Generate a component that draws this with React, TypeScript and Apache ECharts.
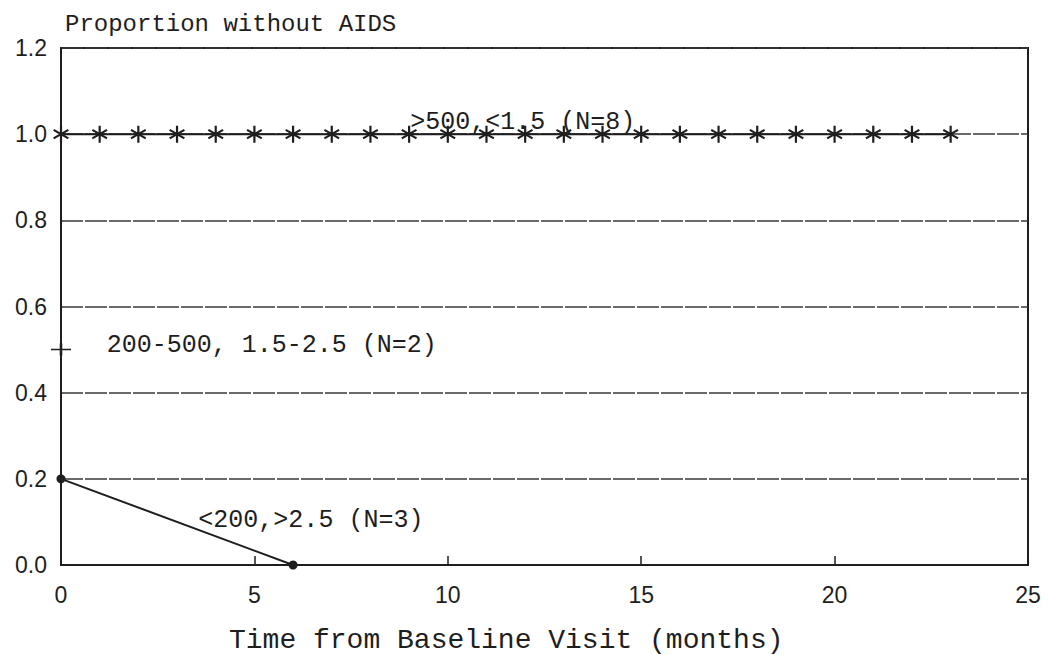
import React, { useEffect, useRef } from "react";
import * as echarts from "echarts";

const highMonths = [0, 1, 2, 3, 4, 5, 6, 7, 8, 9, 10, 11, 12, 13, 14, 15, 16, 17, 18, 19, 20, 21, 22, 23];
const highValues = [1, 1, 1, 1, 1, 1, 1, 1, 1, 1, 1, 1, 1, 1, 1, 1, 1, 1, 1, 1, 1, 1, 1, 1];
const midMonths = [0];
const midValues = [0.5];
const lowMonths = [0, 6];
const lowValues = [0.2, 0];
const groupLabels = [">500,<1.5 (N=8)", "200-500, 1.5-2.5 (N=2)", "<200,>2.5 (N=3)"];
const xTicks = [0, 5, 10, 15, 20, 25];
const yTicks = [0, 0.2, 0.4, 0.6, 0.8, 1.0, 1.2];

const MONO = "'Liberation Mono', 'DejaVu Sans Mono', monospace";
const SANS = "'Liberation Sans', Arial, sans-serif";
const INK = "#1e1e1e";

const asterisk = "path://M0,-10 L0,10 M-8.66,-5 L8.66,5 M-8.66,5 L8.66,-5";
const plus = "path://M-10,0 L10,0 M0,-6 L0,6";

export default function App() {
  const ref = useRef<HTMLDivElement>(null);
  useEffect(() => {
    if (!ref.current) return;
    const chart = echarts.init(ref.current, undefined, { renderer: "svg" });
    const lbl = (text: string) => ({
      show: true,
      position: "inside",
      formatter: text,
      fontFamily: MONO,
      fontSize: 25,
      color: INK,
    });
    chart.setOption({
      animation: false,
      backgroundColor: "#ffffff",
      title: [
        {
          text: "Proportion without AIDS",
          left: 60,
          top: 7,
          textStyle: { fontFamily: MONO, fontSize: 24, fontWeight: "normal", color: INK },
        },
        {
          text: "Time from Baseline Visit (months)",
          left: 224,
          top: 621,
          textStyle: { fontFamily: MONO, fontSize: 28, fontWeight: "normal", color: INK },
        },
      ],
      grid: {
        left: 61,
        right: 21,
        top: 48,
        bottom: 90,
        show: true,
        borderColor: INK,
        borderWidth: 2,
        backgroundColor: "transparent",
      },
      xAxis: {
        type: "value",
        min: xTicks[0],
        max: xTicks[xTicks.length - 1],
        interval: 5,
        axisLine: { show: true, lineStyle: { color: INK, width: 2 } },
        axisTick: { show: true, inside: true, length: 9, lineStyle: { color: INK, width: 1.5 } },
        axisLabel: { fontFamily: SANS, fontSize: 23, color: INK, margin: 18 },
        splitLine: { show: false },
      },
      yAxis: {
        type: "value",
        min: yTicks[0],
        max: yTicks[yTicks.length - 1],
        interval: 0.2,
        axisLine: { show: true, lineStyle: { color: INK, width: 2 } },
        axisTick: { show: false },
        axisLabel: {
          fontFamily: SANS,
          fontSize: 23,
          color: INK,
          margin: 14,
          formatter: (v: number) => v.toFixed(1),
        },
        splitLine: { show: true, lineStyle: { color: "#3a3a3a", width: 1.5, type: [22, 2] } },
      },
      series: [
        {
          type: "line",
          data: highMonths.map((m, i) => [m, highValues[i]]),
          symbol: asterisk,
          symbolSize: 17,
          symbolKeepAspect: true,
          itemStyle: { color: "none", borderColor: INK, borderWidth: 2.2 },
          lineStyle: { color: INK, width: 2 },
          markPoint: {
            symbol: "circle",
            symbolSize: 0,
            data: [{ coord: [11.94, 1.028], label: lbl(groupLabels[0]) }],
          },
        },
        {
          type: "line",
          data: midMonths.map((m, i) => [m, midValues[i]]),
          symbol: plus,
          symbolSize: [20, 12],
          itemStyle: { color: "none", borderColor: INK, borderWidth: 2 },
          lineStyle: { color: INK, width: 2 },
          markPoint: {
            symbol: "circle",
            symbolSize: 0,
            data: [{ coord: [5.45, 0.51], label: lbl(groupLabels[1]) }],
          },
        },
        {
          type: "line",
          data: lowMonths.map((m, i) => [m, lowValues[i]]),
          symbol: "circle",
          symbolSize: 9,
          itemStyle: { color: INK, borderWidth: 0 },
          lineStyle: { color: INK, width: 2 },
          markPoint: {
            symbol: "circle",
            symbolSize: 0,
            data: [{ coord: [6.46, 0.104], label: lbl(groupLabels[2]) }],
          },
        },
      ],
    });
    return () => chart.dispose();
  }, []);
  return (
    <div
      ref={ref}
      style={{ position: "fixed", left: 0, top: 0, width: 1049, height: 655, background: "#fff" }}
    />
  );
}
